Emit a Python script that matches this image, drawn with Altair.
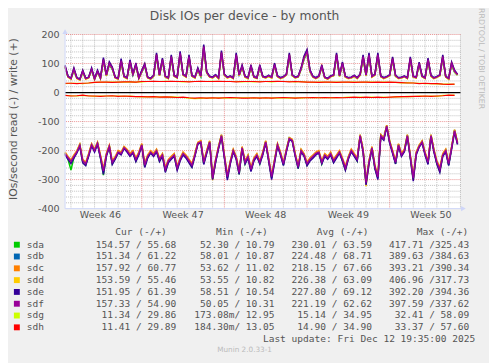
import altair as alt
import pandas as pd

# ---------------- texts ----------------
TITLE = "Disk IOs per device - by month"
Y_TITLE = "IOs/second read (-) / write (+)"
WATERMARK = "RRDTOOL / TOBI OETIKER"
FOOTER = "Munin 2.0.33-1"
LAST_UPDATE = "Last update: Fri Dec 12 19:35:00 2025"

devices = ["sda", "sdb", "sdc", "sdd", "sde", "sdf", "sdg", "sdh"]
colors = ["#00CC00", "#0066B3", "#FF8000", "#FFCC00", "#330099", "#990099", "#CCFF00", "#FF0000"]

headers = ["Cur (-/+)", "Min (-/+)", "Avg (-/+)", "Max (-/+)"]
cur = ["154.57 / 55.68", "151.34 / 61.22", "157.92 / 60.77", "153.59 / 55.46",
       "151.95 / 61.39", "157.33 / 54.90", "11.34 / 29.86", "11.41 / 29.89"]
mn = ["52.30 / 10.79", "58.01 / 10.87", "53.62 / 11.02", "53.55 / 10.82",
      "58.51 / 10.54", "50.05 / 10.31", "173.08m/ 12.95", "184.30m/ 13.05"]
avg = ["230.01 / 63.59", "224.48 / 68.71", "218.15 / 67.66", "226.38 / 63.09",
       "227.80 / 69.12", "221.19 / 62.62", "15.14 / 34.95", "14.90 / 34.90"]
mx = ["417.71 /325.43", "389.63 /384.63", "393.21 /390.34", "406.96 /317.73",
      "392.20 /394.36", "397.59 /337.62", "32.41 / 58.09", "33.37 / 57.60"]

week_labels = ["Week 46", "Week 47", "Week 48", "Week 49", "Week 50"]
week_centers = [3, 10, 17, 24, 31]          # days from left edge
week_starts = [6.5, 13.5, 20.5, 27.5]
day_lines = [0.5 + n for n in range(34) if (0.5 + n) not in week_starts]
y_ticks = [-400, -300, -200, -100, 0, 100, 200]
minor_y = [v for v in range(-380, 200, 20) if v % 100 != 0]
major_y = [-300, -200, -100, 100, 200]

# ---------------- series (6 h samples for sda..sdf, 12 h for sdg/sdh) ----------------
STEP_MAIN = 0.25
STEP_SMALL = 0.5

sda_w = [86,54,47,76,49,44,70,47,51,76, 46,70,49,108,58,96,80,51,47,105,
         54,49,102,60,92,49,70,91,51,47, 56,124,58,108,54,49,118,56,51,129,
         60,54,118,56,51,77,55,150,68,54, 51,58,49,132,60,51,55,49,124,58,
         86,54,49,86,53,49,86,54,51,56, 51,92,55,49,53,60,124,58,51,54,
         79,115,135,72,54,49,55,86,51,47, 55,58,124,56,96,54,49,51,56,49,
         60,118,58,124,54,60,124,55,49,53, 58,112,56,49,51,55,49,112,54,51,
         96,55,49,108,56,49,53,58,118,54, 47,96,70,60]
sdb_w = [88,56,49,78,51,46,72,49,53,78, 48,72,51,110,61,98,83,53,49,108,
         56,51,105,63,94,51,72,93,53,49, 59,127,61,111,56,51,121,59,53,132,
         63,56,121,59,53,79,57,154,71,56, 53,61,51,135,63,53,57,51,127,61,
         88,56,51,88,55,51,88,56,53,59, 53,94,57,51,55,63,127,61,53,56,
         81,118,138,76,56,51,57,88,53,49, 57,61,127,59,98,56,51,53,59,51,
         63,121,61,127,56,63,127,57,51,55, 61,115,59,51,53,57,51,115,56,53,
         98,57,51,111,59,51,55,61,121,56, 49,98,72,63]
sdc_w = [91,54,47,82,49,44,75,47,51,82, 46,75,49,116,59,103,86,51,47,113,
         54,49,110,61,99,49,75,98,51,47, 57,133,59,116,54,49,127,57,51,138,
         61,54,127,57,51,82,55,161,69,54, 51,59,49,141,61,51,55,49,133,59,
         92,54,49,92,53,49,92,54,51,57, 51,98,55,49,53,61,133,59,51,54,
         84,123,144,74,54,49,55,92,51,47, 55,59,133,57,103,54,49,51,57,49,
         61,127,59,133,54,61,133,55,49,53, 59,120,57,49,51,55,49,120,54,51,
         103,55,49,116,57,49,53,59,127,54, 47,103,75,61]
sdd_w = [89,53,46,79,48,43,72,46,50,79, 45,72,48,111,58,99,83,50,46,109,
         53,48,106,60,95,48,72,94,50,46, 56,128,58,111,53,48,122,56,50,133,
         60,53,122,56,50,79,54,155,68,53, 50,58,48,136,60,50,54,48,128,58,
         89,53,48,89,52,48,89,53,50,56, 50,95,54,48,52,60,128,58,50,53,
         81,118,139,73,53,48,54,89,50,46, 54,58,128,56,99,53,48,50,56,48,
         60,122,58,128,53,60,128,54,48,52, 58,115,56,48,50,54,48,115,53,50,
         99,54,48,111,56,48,52,58,122,53, 46,99,72,60]
sde_w = [94,56,49,85,51,46,77,49,53,85, 48,77,51,120,61,106,88,53,49,117,
         56,51,113,63,101,51,77,100,53,49, 59,137,61,119,56,51,130,59,53,142,
         63,56,130,59,53,85,57,165,72,56, 53,61,51,145,63,53,57,51,137,61,
         95,56,51,95,55,51,95,56,53,59, 53,101,57,51,55,63,137,61,53,56,
         86,126,148,78,56,51,57,95,53,49, 57,61,137,59,106,56,51,53,59,51,
         63,130,61,137,56,63,137,57,51,55, 61,123,59,51,53,57,51,123,56,53,
         105,57,51,119,59,51,55,61,130,56, 49,105,77,63]
sdf_w = [90,55,48,80,50,45,73,48,52,80, 47,73,50,113,60,100,84,52,48,110,
         55,50,107,62,96,50,73,95,52,48, 58,130,60,113,55,50,124,58,52,135,
         62,55,124,58,52,80,56,158,70,55, 52,60,50,138,62,52,56,50,130,60,
         90,55,50,90,54,50,90,55,52,58, 52,96,56,50,54,62,130,60,52,55,
         82,120,141,75,55,50,56,90,52,48, 56,60,130,58,100,55,50,52,58,50,
         62,124,60,130,55,62,130,56,50,54, 60,117,58,50,52,56,50,117,55,52,
         100,56,50,113,58,50,54,60,124,55, 48,100,73,62]

sda_r = [-208,-230,-267,-224,-203,-180,-240,-250,-213,-178, -198,-173,-224,-285,-213,-183,-246,-228,-203,-208,
         -188,-198,-213,-203,-236,-208,-178,-256,-222,-203, -213,-198,-236,-213,-272,-240,-223,-213,-266,-228,
         -208,-222,-240,-256,-213,-173,-168,-246,-203,-168, -298,-240,-188,-146,-222,-292,-238,-198,-223,-282,
         -188,-246,-218,-270,-228,-213,-246,-208,-168,-234, -292,-233,-178,-208,-250,-198,-156,-163,-213,-262,
         -198,-213,-250,-228,-218,-208,-203,-246,-213,-223, -208,-240,-218,-203,-236,-266,-223,-198,-213,-236,
         -146,-198,-312,-238,-188,-262,-292,-146,-158,-113, -168,-203,-246,-178,-213,-198,-146,-224,-298,-208,
         -183,-168,-208,-246,-146,-198,-246,-270,-213,-198, -250,-188,-129,-173]
sdb_r = [-212,-228,-240,-222,-207,-184,-238,-248,-217,-182, -202,-177,-222,-274,-217,-187,-243,-227,-207,-212,
         -192,-202,-217,-207,-233,-212,-182,-253,-222,-207, -217,-202,-233,-217,-268,-238,-227,-217,-263,-232,
         -212,-222,-238,-253,-217,-177,-172,-243,-207,-172, -297,-238,-192,-150,-222,-294,-243,-202,-227,-278,
         -192,-243,-222,-268,-232,-217,-243,-212,-172,-232, -294,-238,-182,-212,-248,-202,-160,-167,-217,-258,
         -202,-217,-248,-232,-222,-212,-207,-243,-217,-227, -212,-238,-222,-207,-233,-263,-227,-202,-217,-232,
         -150,-202,-314,-243,-192,-258,-294,-150,-162,-117, -172,-207,-243,-182,-217,-202,-150,-222,-299,-212,
         -187,-172,-212,-243,-150,-202,-243,-268,-217,-202, -248,-192,-133,-177]
sdc_r = [-205,-220,-232,-215,-200,-178,-230,-240,-210,-176, -195,-171,-215,-262,-210,-181,-235,-220,-200,-205,
         -186,-195,-210,-200,-225,-205,-176,-244,-215,-200, -210,-195,-225,-210,-258,-230,-220,-210,-254,-225,
         -205,-215,-230,-244,-210,-171,-166,-235,-200,-166, -288,-230,-186,-145,-215,-284,-235,-195,-220,-268,
         -186,-235,-215,-258,-225,-210,-235,-205,-166,-225, -284,-230,-176,-205,-240,-195,-155,-161,-210,-250,
         -195,-210,-240,-225,-215,-205,-200,-235,-210,-220, -205,-230,-215,-200,-225,-254,-220,-195,-210,-225,
         -145,-195,-304,-235,-186,-250,-284,-145,-156,-112, -166,-200,-235,-176,-210,-195,-145,-215,-289,-205,
         -181,-166,-205,-235,-145,-195,-235,-258,-210,-195, -240,-186,-128,-171]
sdd_r = [-207,-226,-242,-218,-203,-181,-236,-246,-214,-179, -199,-174,-219,-272,-214,-184,-241,-226,-204,-209,
         -189,-199,-214,-204,-231,-209,-179,-252,-219,-204, -214,-199,-231,-214,-268,-236,-224,-214,-262,-229,
         -209,-219,-236,-252,-214,-174,-169,-242,-204,-169, -302,-236,-189,-147,-219,-292,-241,-199,-224,-278,
         -189,-241,-219,-267,-229,-214,-241,-209,-169,-231, -292,-236,-179,-209,-246,-199,-157,-164,-214,-257,
         -199,-214,-246,-229,-219,-209,-204,-241,-214,-224, -209,-236,-219,-204,-231,-264,-224,-199,-214,-231,
         -147,-199,-323,-241,-189,-256,-292,-147,-159,-114, -169,-204,-241,-179,-214,-199,-147,-219,-300,-209,
         -184,-169,-209,-241,-147,-199,-241,-272,-214,-199, -246,-189,-130,-174]
sde_r = [-214,-230,-245,-226,-208,-185,-242,-252,-220,-183, -205,-178,-226,-282,-220,-188,-248,-230,-208,-215,
         -193,-205,-220,-208,-238,-215,-183,-258,-226,-208, -220,-204,-238,-220,-275,-242,-230,-220,-268,-236,
         -215,-226,-242,-258,-220,-178,-173,-248,-210,-173, -300,-242,-194,-152,-226,-302,-246,-204,-230,-282,
         -194,-246,-226,-272,-236,-220,-246,-215,-173,-236, -300,-242,-184,-215,-252,-204,-161,-168,-220,-262,
         -204,-220,-252,-236,-226,-215,-208,-246,-220,-230, -215,-242,-226,-208,-236,-268,-230,-204,-220,-236,
         -152,-205,-318,-246,-194,-262,-300,-152,-164,-118, -174,-210,-246,-184,-220,-204,-152,-226,-305,-215,
         -188,-174,-215,-248,-152,-205,-246,-275,-220,-204, -252,-194,-135,-179]
sdf_r = [-210,-225,-237,-220,-205,-182,-235,-245,-215,-180, -200,-175,-220,-270,-215,-185,-240,-225,-205,-210,
         -190,-200,-215,-205,-230,-210,-180,-250,-220,-205, -215,-200,-230,-215,-265,-235,-225,-215,-260,-230,
         -210,-220,-235,-250,-215,-175,-170,-240,-205,-170, -295,-235,-190,-148,-220,-290,-240,-200,-225,-275,
         -190,-240,-220,-265,-230,-215,-240,-210,-170,-230, -290,-235,-180,-210,-245,-200,-158,-165,-215,-255,
         -200,-215,-245,-230,-220,-210,-205,-240,-215,-225, -210,-235,-220,-205,-230,-260,-225,-200,-215,-230,
         -148,-200,-310,-240,-190,-255,-290,-148,-160,-115, -170,-205,-240,-180,-215,-200,-148,-220,-295,-210,
         -185,-170,-210,-240,-148,-200,-240,-265,-215,-200, -245,-190,-131,-175]

sdg_w = [31,32,32,31,33, 35,35,36,36,36,36,37,36,
         37,38,38,38,39,38,38,37,38,38,38,38,39,38,38,38,38,37,
         38,37,38,38,37,38,38,38,37,38,
         36,35,36,36,35,36,35,36,36,35,36,36,35,36,35,
         35,33,34,33, 32,31,31,30, 29,29,28]
sdh_w = [32,32,31,32,33, 35,36,36,35,36,37,37,36,
         38,38,39,38,38,39,38,38,37,38,39,38,38,39,38,38,37,38,
         38,38,37,38,38,39,38,37,38,37,
         36,36,35,36,36,35,36,36,35,36,36,35,36,35,36,
         35,34,33,33, 31,32,31,31, 29,28,29]
sdg_r = [-10,-11,-12,-10,-11, -13,-12,-12,-12,-12,-13,-12,-14,
         -15,-14,-15,-15,-16,-15,-16,-17,
         -19,-21,-20,-19,-19,-18,-19,-18,-19,-18,
         -18,-19,-18,-19,-18,-19,-18,-19,-18,-19,
         -17,-18,-17,-18,-17,-18,-17,-16,-17,-16,-17,-16,-17,-16,-17,
         -14,-15,-13,-14, -12,-13,-12,-13, -10,-10,-9]
sdh_r = [-10,-12,-11,-9,-12, -12,-13,-12,-11,-13,-12,-13,-14,
         -14,-15,-14,-16,-15,-16,-17,-16,
         -18,-19,-18,-19,-18,-19,-18,-17,-18,-19,
         -19,-18,-19,-18,-19,-18,-17,-18,-19,-18,
         -18,-17,-18,-17,-18,-17,-18,-17,-16,-17,-16,-17,-16,-17,-16,
         -15,-14,-14,-13, -13,-12,-13,-12, -11,-9,-10]

series = [
    ("sda", sda_w, sda_r, STEP_MAIN), ("sdb", sdb_w, sdb_r, STEP_MAIN),
    ("sdc", sdc_w, sdc_r, STEP_MAIN), ("sdd", sdd_w, sdd_r, STEP_MAIN),
    ("sde", sde_w, sde_r, STEP_MAIN), ("sdf", sdf_w, sdf_r, STEP_MAIN),
    ("sdg", sdg_w, sdg_r, STEP_SMALL), ("sdh", sdh_w, sdh_r, STEP_SMALL),
]

rows = []
for dev, w, r, step in series:
    for i, v in enumerate(w):
        rows.append({"dev": dev, "side": "write", "day": i * step, "v": v})
    for i, v in enumerate(r):
        rows.append({"dev": dev, "side": "read", "day": i * step, "v": v})
df = pd.DataFrame(rows)

# ---------------- styling ----------------
FONT = "DejaVu Sans"
MONO = "DejaVu Sans Mono"
TXT = "#555555"
AXIS_BLUE = "#CFD6F8"
line_widths = {"sda": 1.5, "sdb": 1.5, "sdc": 1.5, "sdd": 1.5, "sde": 1.5, "sdf": 1.5,
               "sdg": 1.2, "sdh": 1.2}

xs = alt.Scale(domain=[0, 33.5], nice=False, zero=False)
ys = alt.Scale(domain=[-400, 200], nice=False, zero=False)
y_axis = alt.Axis(values=y_ticks, labelExpr="'' + datum.value", ticks=False, tickSize=0,
                  domain=False, grid=False, title=None, labelPadding=6, labelFont=FONT,
                  labelFontSize=9.7, labelColor=TXT)
X = alt.X("day:Q", scale=xs, axis=None)
Y = alt.Y("v:Q", scale=ys, axis=y_axis)

layers = []
# grids
layers.append(alt.Chart(pd.DataFrame({"v": minor_y})).mark_rule(
    color="#8F8F8F", strokeDash=[1, 1], strokeWidth=1, opacity=0.55).encode(y=Y))
layers.append(alt.Chart(pd.DataFrame({"day": day_lines})).mark_rule(
    color="#8F8F8F", strokeDash=[1, 1], strokeWidth=1, opacity=0.55).encode(x=X))
layers.append(alt.Chart(pd.DataFrame({"v": major_y})).mark_rule(
    color="#DE4F4F", strokeDash=[1, 1], strokeWidth=1, opacity=0.6).encode(y=Y))
layers.append(alt.Chart(pd.DataFrame({"day": week_starts})).mark_rule(
    color="#DE4F4F", strokeDash=[1, 1], strokeWidth=1, opacity=0.6).encode(x=X))

# data lines, drawn in device order
for dev, col in zip(devices, colors):
    layers.append(alt.Chart(df[df.dev == dev]).mark_line(
        color=col, strokeWidth=line_widths[dev], interpolate="linear").encode(
        x=X, y=Y, detail="side:N", order="day:Q"))

# zero rule
layers.append(alt.Chart(pd.DataFrame({"v": [0]})).mark_rule(color="#000000", strokeWidth=1.3).encode(y=Y))

# axes lines and arrows
one = pd.DataFrame({"k": [0]})
layers.append(alt.Chart(one).mark_rule(color=AXIS_BLUE, strokeWidth=1).encode(
    x=alt.value(0), y=alt.value(-3), y2=alt.value(177)))
layers.append(alt.Chart(one).mark_rule(color=AXIS_BLUE, strokeWidth=1).encode(
    x=alt.value(0), x2=alt.value(404), y=alt.value(177)))
layers.append(alt.Chart(one).mark_point(shape="triangle-up", filled=True, color=AXIS_BLUE,
                                       size=30, opacity=1).encode(x=alt.value(0), y=alt.value(-3)))
layers.append(alt.Chart(one).mark_point(shape="triangle-right", filled=True, color=AXIS_BLUE,
                                       size=30, opacity=1).encode(x=alt.value(405), y=alt.value(177)))

# week labels
layers.append(alt.Chart(pd.DataFrame({"day": week_centers, "label": week_labels})).mark_text(
    font=FONT, fontSize=9.7, color=TXT, align="center", baseline="middle").encode(
    x=X, y=alt.value(184), text="label:N"))

# title, y title, watermark, footer
def text_at(t, x, y, **kw):
    return alt.Chart(pd.DataFrame({"t": [t]})).mark_text(**kw).encode(
        x=alt.value(x), y=alt.value(y), text="t:N")

layers.append(text_at(TITLE, 182.5, -18.7, font=FONT, fontSize=12.5, color=TXT,
                      align="center", baseline="middle"))
layers.append(text_at(Y_TITLE, -52, 86, font=FONT, fontSize=11, color=TXT,
                      align="center", baseline="middle", angle=270))
layers.append(text_at(WATERMARK, 423, 24.5, font=FONT, fontSize=8, color="#BBBBBB",
                      align="center", baseline="middle", angle=90))
layers.append(text_at(FOOTER, 182.5, 321, font=FONT, fontSize=7.4, color="#BBBBBB",
                      align="center", baseline="middle"))
layers.append(text_at(LAST_UPDATE, 417, 309.7, font=MONO, fontSize=9.7, color=TXT,
                      align="right", baseline="middle"))

# legend headers
for h, hx in zip(headers, [51, 153.5, 256, 357.5]):
    layers.append(text_at(h, hx, 201, font=MONO, fontSize=9.7, color=TXT,
                          align="left", baseline="middle"))

# legend rows
leg = pd.DataFrame({"name": devices, "color": colors, "cur": cur, "mn": mn,
                    "avg": avg, "mx": mx, "row": list(range(len(devices)))})
leg_base = alt.Chart(leg).transform_calculate(py="213.7 + 12 * datum.row")
PY = alt.Y("py:Q", scale=None)
layers.append(leg_base.mark_square(size=36, opacity=1).encode(
    x=alt.value(-49), y=PY, color=alt.Color("color:N", scale=None)))
layers.append(leg_base.mark_text(font=MONO, fontSize=9.7, color=TXT, align="left",
                                 baseline="middle").encode(x=alt.value(-39), y=PY, text="name:N"))
for field, cx in [("cur", 113), ("mn", 213), ("avg", 312), ("mx", 411)]:
    layers.append(leg_base.mark_text(font=MONO, fontSize=9.7, color=TXT, align="right",
                                     baseline="middle").encode(x=alt.value(cx), y=PY,
                                                               text=f"{field}:N"))

chart = alt.layer(*layers).properties(
    width=402, height=177, autosize="none",
    padding={"left": 58, "top": 24, "right": 29, "bottom": 154},
    background="#F0F0F0",
).configure_view(fill="white", stroke=None)

chart.save("out.html", embed_options={"renderer": "svg", "actions": False})
